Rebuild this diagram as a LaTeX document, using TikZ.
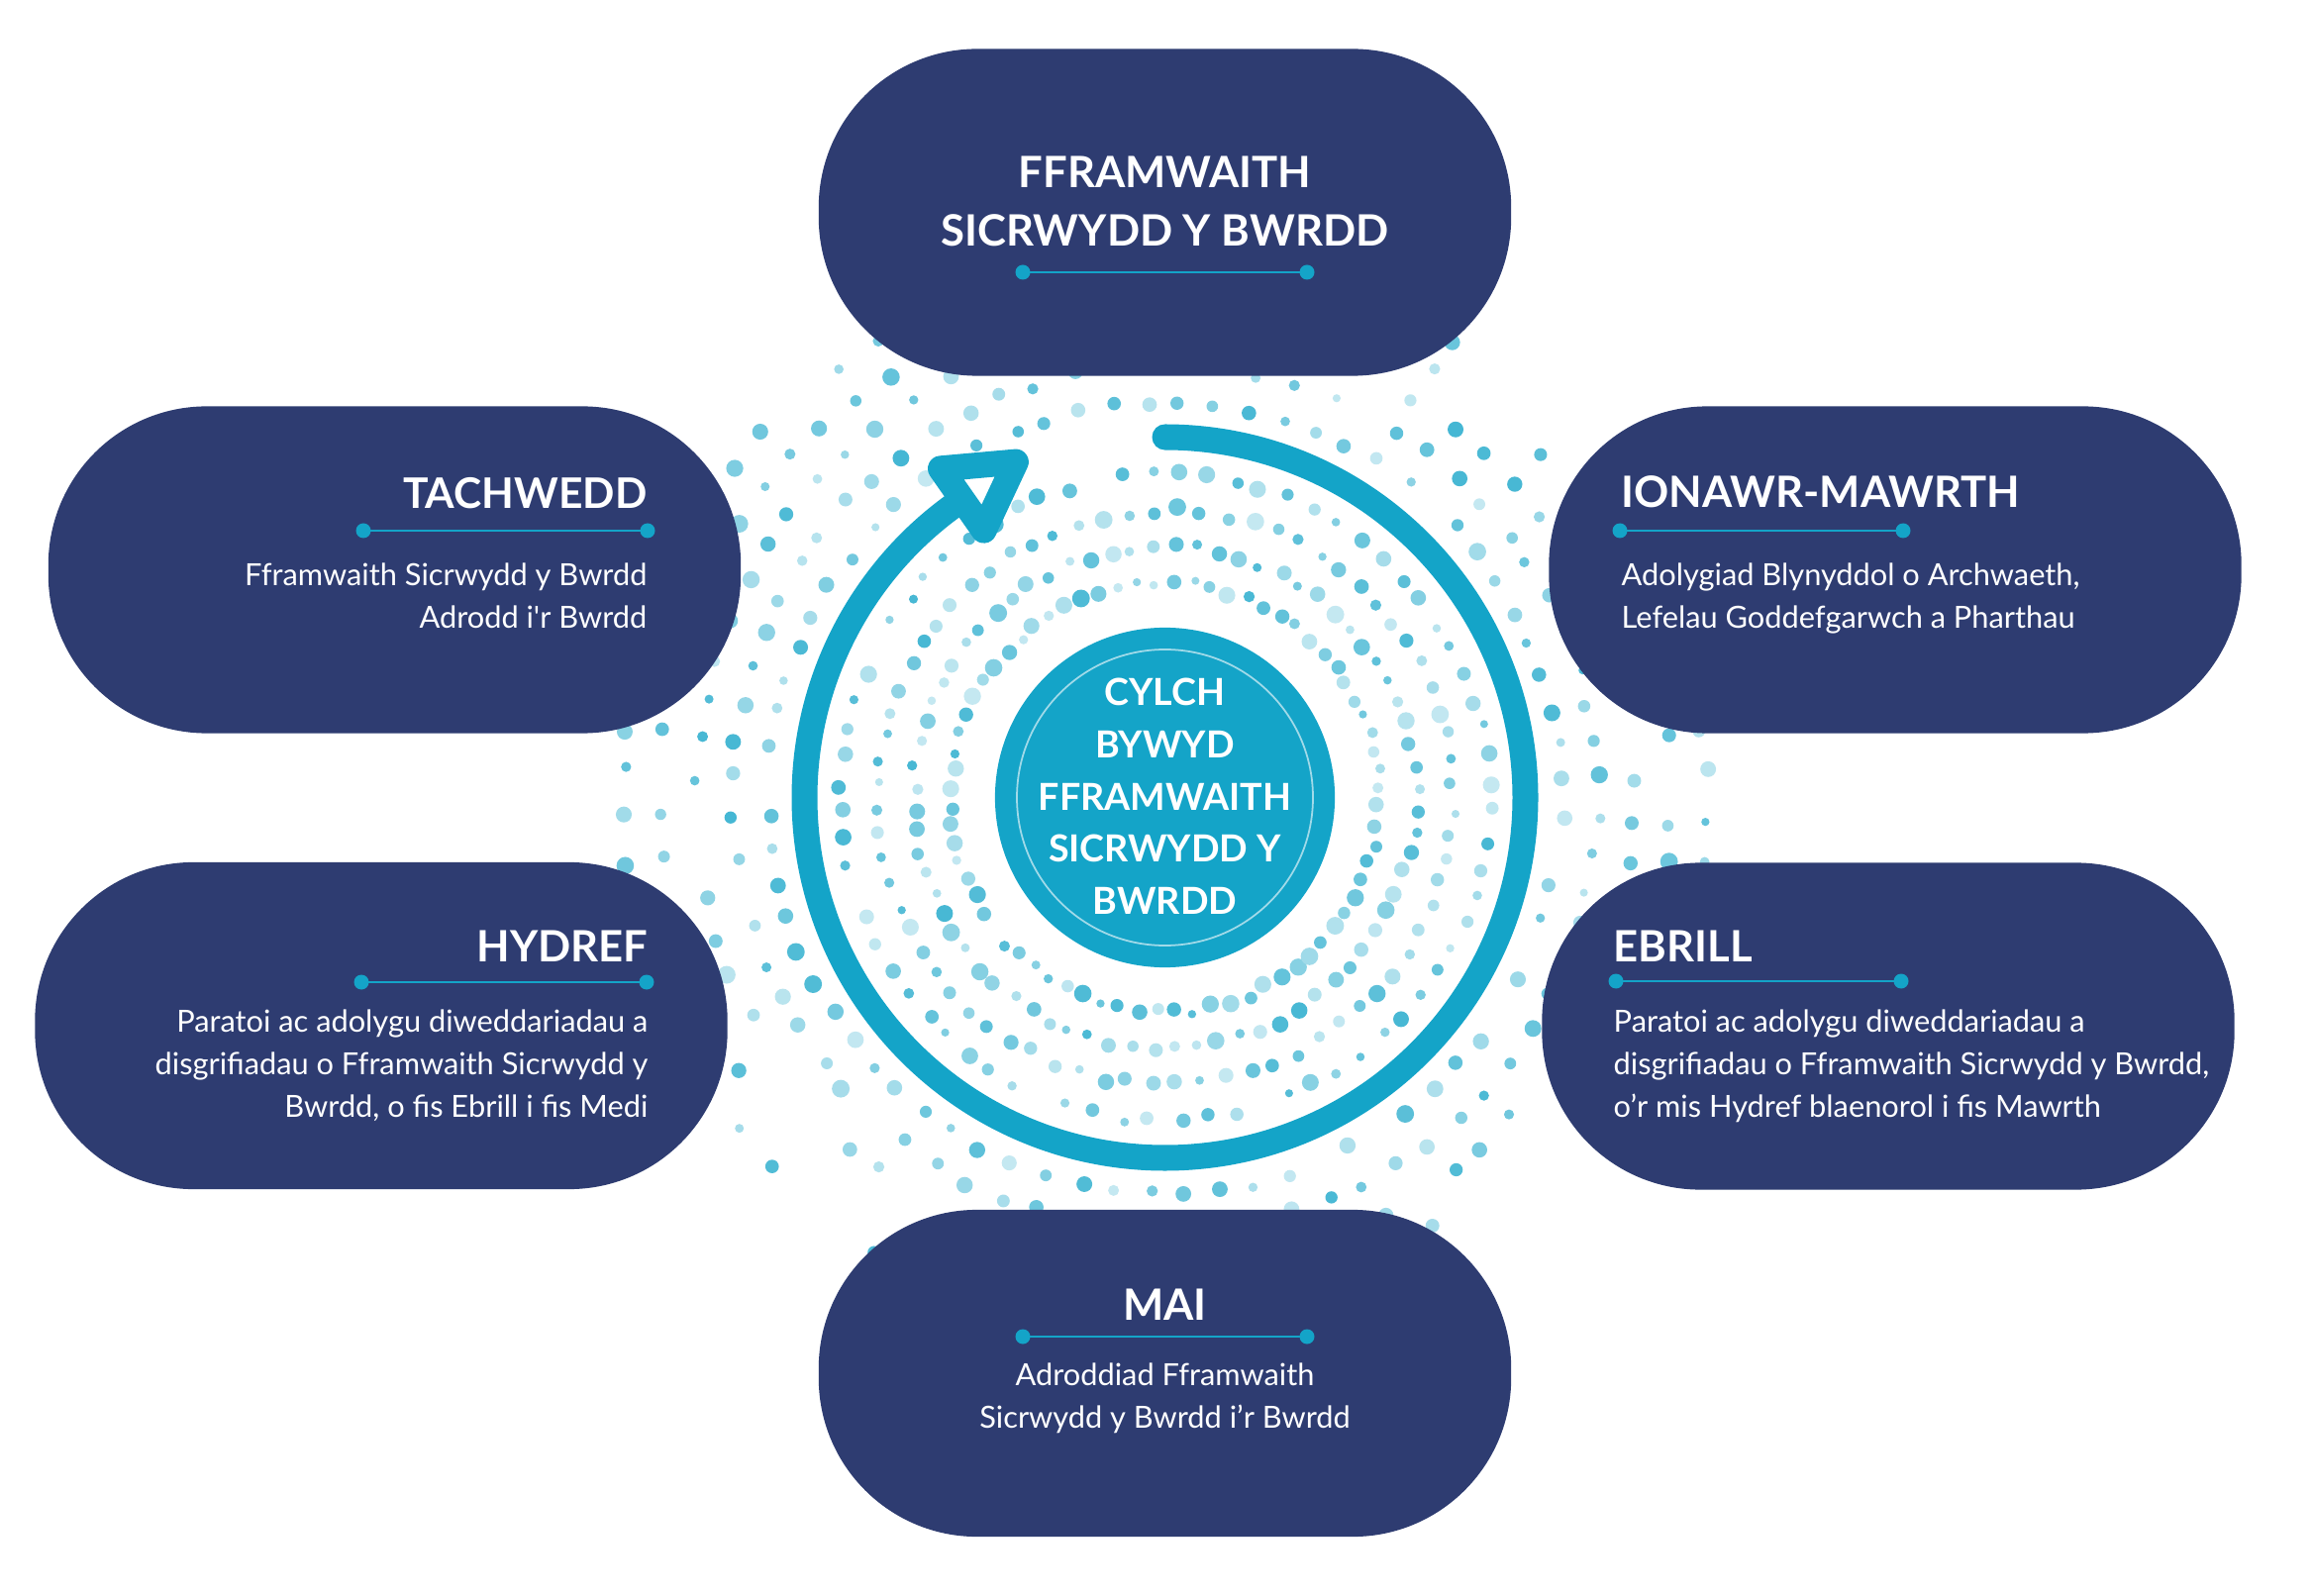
\documentclass[tikz,border=0pt]{standalone}
\usepackage{fontspec}
\setmainfont{Lato}
\usetikzlibrary{calc}
\definecolor{navy}{HTML}{2E3C71}
\definecolor{accent}{HTML}{14A4C8}
\begin{document}
\begin{tikzpicture}[x=0.01cm,y=0.01cm,
  box/.style={fill=navy, rounded corners=1.6cm, minimum width=6.99cm, minimum height=3.30cm, inner sep=0, draw=none},
  ttl/.style={text=white, inner sep=0, font=\bfseries\fontsize{12.4}{14}\selectfont},
  bod/.style={text=white, inner sep=0, font=\fontsize{8.75}{10}\selectfont},
  ctr/.style={text=white, inner sep=0, font=\bfseries\fontsize{10.7}{12}\selectfont},
  rulel/.style={accent, line width=0.028cm},
  dotc/.style={fill=accent},
]
\fill[white] (0,0) rectangle (2336,1611);
\useasboundingbox (0,0) rectangle (2336,1611);
\coordinate (C) at (1176.5,805.5);
% decorative dot rings
\pgfmathsetseed{4242}
\foreach \k/\keep in {0/0.97,1/0.97,2/0.97,3/0.95,5/0.92,6/0.88,7/0.8,8/0.65,9/0.55}{
  \foreach \i in {0,...,71}{
    \pgfmathsetmacro\rr{217+36.7*\k+8*(rnd-0.5)}
    \pgfmathsetmacro\aa{2.5+5*\i+1.6*(rnd-0.5)}
    \pgfmathsetmacro\ds{4+5*rnd}
    \pgfmathtruncatemacro\tint{25+55*rnd}
    \pgfmathsetmacro\kp{rnd < \keep ? 1 : 0}
    \ifdim\kp pt>0.5pt
      \fill[accent!\tint!white] (C) ++(\aa:\rr) circle[radius=\ds];
    \fi
  }
}
% cycle arc with arrow
\draw[accent, line width=0.26cm, line cap=round] (C) ++(90:364) arc[start angle=90, end angle=-235, radius=364] coordinate (E);
\begin{scope}[shift={(E)}, rotate=35]
  \draw[accent, line width=0.26cm, line join=round] (5,-38) -- (71,0) -- (5,38) -- cycle;
\end{scope}
% hub
\node[circle, fill=accent, minimum size=3.43cm, inner sep=0] (hub) at (C) {};
\draw[white, opacity=0.6, line width=0.5pt] (C) circle[radius=149.5];
\node[ctr, anchor=base] (c1) at (1176.5,898) {CYLCH};
\node[ctr, anchor=base] (c2) at (1176.5,846) {BYWYD};
\node[ctr, anchor=base] (c3) at (1176.5,793) {FFRAMWAITH};
\node[ctr, anchor=base] (c4) at (1176.5,741) {SICRWYDD Y};
\node[ctr, anchor=base] (c5) at (1176.5,688) {BWRDD};
% boxes
\node[box] (top) at (1176.5,1396.5) {};
\node[box] (tach) at (398.5,1035.5) {};
\node[box] (ion) at (1914,1035.5) {};
\node[box] (hyd) at (385,575) {};
\node[box] (ebr) at (1907,574.5) {};
\node[box] (mai) at (1176.5,224) {};
% top box
\node[ttl, anchor=base] (topt1) at (1176.5,1421) {FFRAMWAITH};
\node[ttl, anchor=base] (topt2) at (1176.5,1362) {SICRWYDD Y BWRDD};
\coordinate (topa) at (1033,1336); \coordinate (topb) at (1320,1336);
\draw[rulel] (topa) -- (topb);
\fill[dotc] (topa) circle[radius=7.5] (topb) circle[radius=7.5];
% TACHWEDD
\node[ttl, anchor=base east, font=\bfseries\fontsize{12.1}{14}\selectfont] (tacht) at (654,1097) {TACHWEDD};
\coordinate (tacha) at (367,1075); \coordinate (tachb) at (654,1075);
\draw[rulel] (tacha) -- (tachb);
\fill[dotc] (tacha) circle[radius=7.5] (tachb) circle[radius=7.5];
\node[bod, anchor=base east] (tach1) at (654,1019) {Fframwaith Sicrwydd y Bwrdd};
\node[bod, anchor=base east] (tach2) at (654,976) {Adrodd i\textquotesingle r Bwrdd};
% IONAWR-MAWRTH
\node[ttl, anchor=base west] (iont) at (1637,1098) {IONAWR-MAWRTH};
\coordinate (iona) at (1636,1075); \coordinate (ionb) at (1922,1075);
\draw[rulel] (iona) -- (ionb);
\fill[dotc] (iona) circle[radius=7.5] (ionb) circle[radius=7.5];
\node[bod, anchor=base west] (ion1) at (1637,1019) {Adolygiad Blynyddol o Archwaeth,};
\node[bod, anchor=base west] (ion2) at (1637,976) {Lefelau Goddefgarwch a Pharthau};
% HYDREF
\node[ttl, anchor=base east] (hydt) at (655,640) {HYDREF};
\coordinate (hyda) at (365,619); \coordinate (hydb) at (653,619);
\draw[rulel] (hyda) -- (hydb);
\fill[dotc] (hyda) circle[radius=7.5] (hydb) circle[radius=7.5];
\node[bod, anchor=base east] (hyd1) at (655,569) {Paratoi ac adolygu diweddariadau a};
\node[bod, anchor=base east] (hyd2) at (655,526) {disgrifiadau o Fframwaith Sicrwydd y};
\node[bod, anchor=base east] (hyd3) at (655,483) {Bwrdd, o fis Ebrill i fis Medi};
% EBRILL
\node[ttl, anchor=base west] (ebrt) at (1629,640) {EBRILL};
\coordinate (ebra) at (1632,620); \coordinate (ebrb) at (1920,620);
\draw[rulel] (ebra) -- (ebrb);
\fill[dotc] (ebra) circle[radius=7.5] (ebrb) circle[radius=7.5];
\node[bod, anchor=base west] (ebr1) at (1629,569) {Paratoi ac adolygu diweddariadau a};
\node[bod, anchor=base west] (ebr2) at (1629,526) {disgrifiadau o Fframwaith Sicrwydd y Bwrdd,};
\node[bod, anchor=base west] (ebr3) at (1629,483) {o’r mis Hydref blaenorol i fis Mawrth};
% MAI
\node[ttl, anchor=base] (mait) at (1176.5,278) {MAI};
\coordinate (maia) at (1033,261); \coordinate (maib) at (1320,261);
\draw[rulel] (maia) -- (maib);
\fill[dotc] (maia) circle[radius=7.5] (maib) circle[radius=7.5];
\node[bod, anchor=base] (mai1) at (1176.5,212) {Adroddiad Fframwaith};
\node[bod, anchor=base] (mai2) at (1176.5,169) {Sicrwydd y Bwrdd i’r Bwrdd};
\end{tikzpicture}
\end{document}
